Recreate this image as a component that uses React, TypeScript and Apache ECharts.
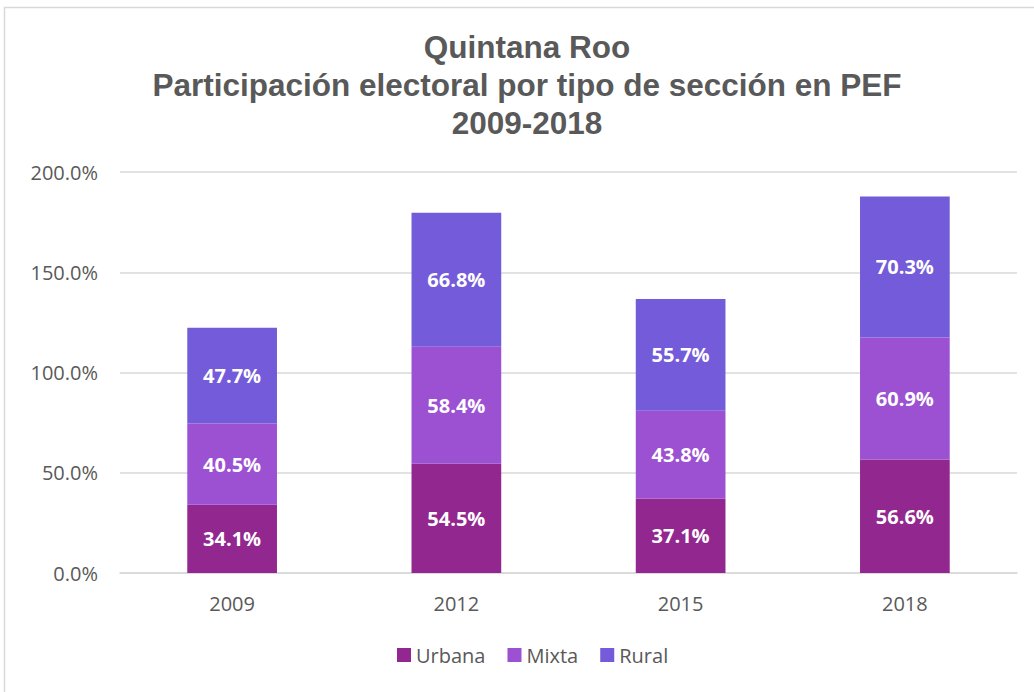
import React, { useEffect, useRef } from "react";
import * as echarts from "echarts";

const categories = ["2009", "2012", "2015", "2018"];
const urbana = [34.1, 54.5, 37.1, 56.6];
const mixta = [40.5, 58.4, 43.8, 60.9];
const rural = [47.7, 66.8, 55.7, 70.3];
const seriesNames = ["Urbana", "Mixta", "Rural"];
const colors = ["#92278F", "#9B51D1", "#745BD9"];
const titleLines = ["Quintana Roo", "Participación electoral por tipo de sección en PEF", "2009-2018"];

export default function App() {
  const ref = useRef<HTMLDivElement>(null);
  useEffect(() => {
    const chart = echarts.init(ref.current!, null, { renderer: "svg" });
    const label = {
      show: true,
      position: "inside",
      color: "#ffffff",
      fontWeight: "bold",
      fontSize: 20,
      fontFamily: "Open Sans",
      formatter: (p: any) => p.value.toFixed(1) + "%",
    };
    const datas = [urbana, mixta, rural];
    chart.setOption({
      animation: false,
      backgroundColor: "#ffffff",
      graphic: [
        {
          type: "rect",
          shape: { x: 4.5, y: 7.5, width: 1100, height: 800 },
          style: { fill: "none", stroke: "#d9d9d9", lineWidth: 1.5 },
          silent: true,
        },
        ...titleLines.map((t, i) => ({
          type: "text",
          x: 527,
          y: 47 + i * 38,
          silent: true,
          style: {
            text: t,
            align: "center",
            verticalAlign: "middle",
            fill: "#595959",
            font: "bold 31.5px 'Liberation Sans', Arial, sans-serif",
          },
        })),
      ],
      legend: {
        bottom: 22,
        left: 392,
        itemWidth: 14,
        itemHeight: 14,
        itemGap: 22,
        icon: "rect",
        textStyle: { fontFamily: "Open Sans", fontSize: 20, color: "#595959" },
        data: seriesNames,
      },
      grid: { left: 120, right: 17, top: 172, bottom: 119, containLabel: false },
      xAxis: {
        type: "category",
        data: categories,
        axisLine: { lineStyle: { color: "#d9d9d9", width: 1.5 } },
        axisTick: { show: false },
        axisLabel: { fontFamily: "Open Sans", fontSize: 20, color: "#595959", margin: 20 },
      },
      yAxis: {
        type: "value",
        min: 0,
        max: 200,
        interval: 50,
        axisLine: { show: false },
        axisTick: { show: false },
        splitLine: { lineStyle: { color: "#d9d9d9", width: 1.5 } },
        axisLabel: {
          fontFamily: "Open Sans",
          fontSize: 20,
          color: "#595959",
          margin: 22,
          formatter: (v: number) => v.toFixed(1) + "%",
        },
      },
      series: seriesNames.map((name, i) => ({
        name,
        type: "bar",
        stack: "total",
        barWidth: "40%",
        data: datas[i],
        itemStyle: { color: colors[i] },
        label,
      })),
    });
    return () => chart.dispose();
  }, []);
  return (
    <div
      ref={ref}
      style={{ position: "fixed", left: 0, top: 0, width: 1034, height: 692 }}
    />
  );
}
